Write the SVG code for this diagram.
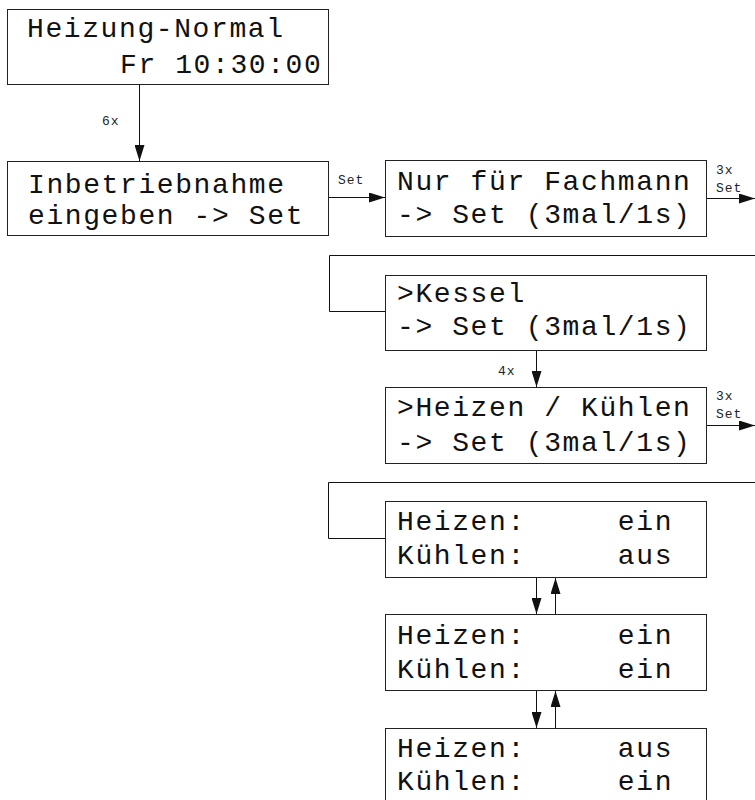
<svg xmlns="http://www.w3.org/2000/svg" width="755" height="800" viewBox="0 0 755 800">
<defs>
<style>
.box{fill:#fff;stroke:#222;stroke-width:1}
.t{font-family:"Courier New","Liberation Mono",monospace;font-size:28px;letter-spacing:1.6px;fill:#111;white-space:pre}
.s{font-family:"Courier New","Liberation Mono",monospace;font-size:13px;letter-spacing:1px;fill:#222}
.c{fill:none;stroke:#111;stroke-width:1}
</style>
<marker id="ah" viewBox="0 0 16 10" refX="16" refY="5" markerWidth="16" markerHeight="10" markerUnits="userSpaceOnUse" orient="auto">
<path d="M0,0 L16,5 L0,10 z" fill="#111"/>
</marker>
</defs>
<rect width="755" height="800" fill="#fff"/>
<g id="connectors">
<line class="c" x1="139.5" y1="84.5" x2="139.5" y2="161" marker-end="url(#ah)"/>
<line class="c" x1="328.5" y1="197.5" x2="385" y2="197.5" marker-end="url(#ah)"/>
<line class="c" x1="706.5" y1="198.5" x2="755" y2="198.5" marker-end="url(#ah)"/>
<polyline class="c" points="755,255.5 329.5,255.5 329.5,311.5 385.5,311.5"/>
<line class="c" x1="536.5" y1="350.5" x2="536.5" y2="387" marker-end="url(#ah)"/>
<line class="c" x1="706.5" y1="425.5" x2="755" y2="425.5" marker-end="url(#ah)"/>
<polyline class="c" points="755,482.5 328.5,482.5 328.5,538.5 385.5,538.5"/>
<line class="c" x1="536.5" y1="577.5" x2="536.5" y2="614" marker-end="url(#ah)"/>
<line class="c" x1="555.5" y1="614.5" x2="555.5" y2="578" marker-end="url(#ah)"/>
<line class="c" x1="536.5" y1="690.5" x2="536.5" y2="728" marker-end="url(#ah)"/>
<line class="c" x1="555.5" y1="728.5" x2="555.5" y2="691" marker-end="url(#ah)"/>
<text class="s" x="102" y="125">6x</text>
<text class="s" x="338" y="184">Set</text>
<text class="s" x="716" y="174">3x</text>
<text class="s" x="716" y="192">Set</text>
<text class="s" x="498" y="375">4x</text>
<text class="s" x="716" y="400">3x</text>
<text class="s" x="716" y="418">Set</text>
</g>
<g id="n1"><rect class="box" x="7.5" y="9.5" width="321" height="75"/>
<text class="t" x="27" y="37">Heizung-Normal</text><text class="t" x="120" y="73">Fr 10:30:00</text></g>
<g id="n2"><rect class="box" x="7.5" y="161.5" width="321" height="74"/>
<text class="t" x="28" y="193">Inbetriebnahme</text><text class="t" x="28" y="224">eingeben -&gt; Set</text></g>
<g id="n3"><rect class="box" x="385.5" y="160.5" width="321" height="76"/>
<text class="t" x="397" y="190">Nur für Fachmann</text><text class="t" x="397" y="223">-&gt; Set (3mal/1s)</text></g>
<g id="n4"><rect class="box" x="385.5" y="275.5" width="321" height="75"/>
<text class="t" x="397" y="302">&gt;Kessel</text><text class="t" x="397" y="335">-&gt; Set (3mal/1s)</text></g>
<g id="n5"><rect class="box" x="385.5" y="387.5" width="321" height="76"/>
<text class="t" x="397" y="416">&gt;Heizen / Kühlen</text><text class="t" x="397" y="451">-&gt; Set (3mal/1s)</text></g>
<g id="n6"><rect class="box" x="385.5" y="501.5" width="321" height="76"/>
<text class="t" x="397" y="530" xml:space="preserve">Heizen:     ein</text><text class="t" x="397" y="564" xml:space="preserve">Kühlen:     aus</text></g>
<g id="n7"><rect class="box" x="385.5" y="614.5" width="321" height="76"/>
<text class="t" x="397" y="644" xml:space="preserve">Heizen:     ein</text><text class="t" x="397" y="678" xml:space="preserve">Kühlen:     ein</text></g>
<g id="n8"><rect class="box" x="385.5" y="728.5" width="321" height="76"/>
<text class="t" x="397" y="757" xml:space="preserve">Heizen:     aus</text><text class="t" x="397" y="790" xml:space="preserve">Kühlen:     ein</text></g>
</svg>
